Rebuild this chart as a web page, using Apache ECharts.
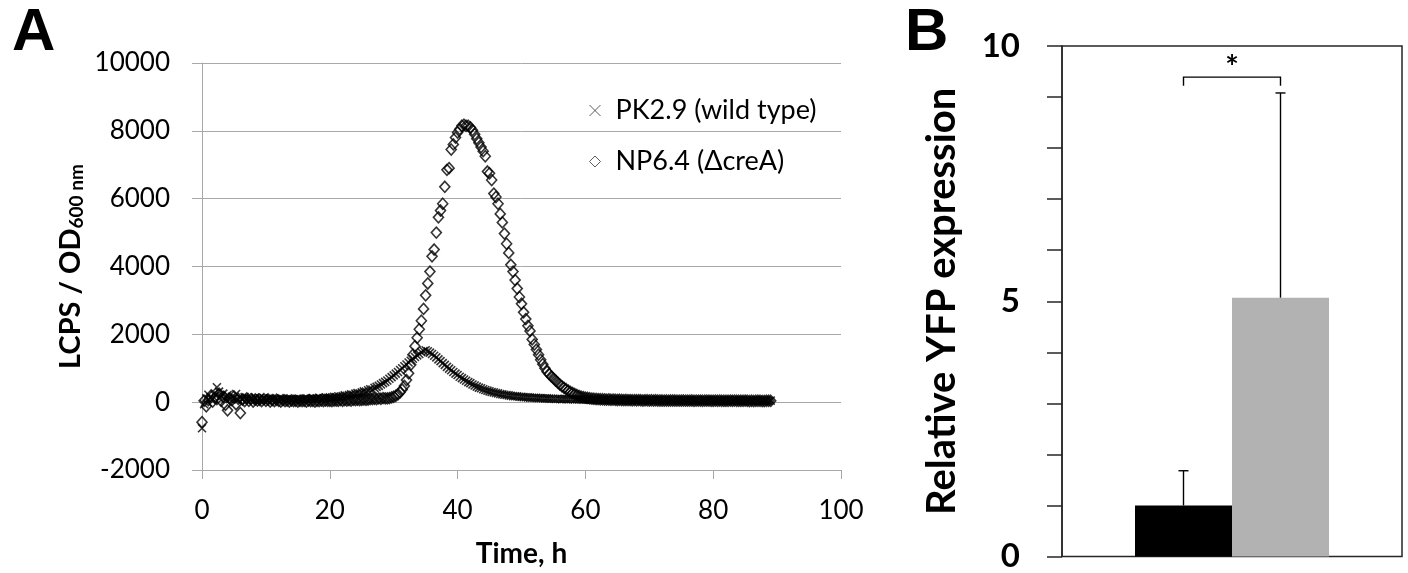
<!DOCTYPE html>
<html><head><meta charset="utf-8">
<script src="https://cdn.jsdelivr.net/npm/echarts@6/dist/echarts.min.js"></script>
<style>html,body{margin:0;padding:0;background:#fff}#c{width:1408px;height:573px}</style>
</head><body><div id="c"></div>
<script>
// ---- Panel A data: time (h) and LCPS/OD600 for the two strains ----
const timeH = [
0,0.33,0.67,1,1.33,1.67,2,2.33,2.67,3,3.33,3.67,4,4.33,4.67,5,5.33,5.67,6,6.33,6.67,7,7.33,7.67,8,8.33,8.67,9,9.33,9.67,
10,10.33,10.67,11,11.33,11.67,12,12.33,12.67,13,13.33,13.67,14,14.33,14.67,15,15.33,15.67,16,16.33,16.67,17,17.33,17.67,18,18.33,18.67,19,19.33,19.67,
20,20.33,20.67,21,21.33,21.67,22,22.33,22.67,23,23.33,23.67,24,24.33,24.67,25,25.33,25.67,26,26.33,26.67,27,27.33,27.67,28,28.33,28.67,29,29.33,29.67,
30,30.33,30.67,31,31.33,31.67,32,32.33,32.67,33,33.33,33.67,34,34.33,34.67,35,35.33,35.67,36,36.33,36.67,37,37.33,37.67,38,38.33,38.67,39,39.33,39.67,
40,40.33,40.67,41,41.33,41.67,42,42.33,42.67,43,43.33,43.67,44,44.33,44.67,45,45.33,45.67,46,46.33,46.67,47,47.33,47.67,48,48.33,48.67,49,49.33,49.67,
50,50.33,50.67,51,51.33,51.67,52,52.33,52.67,53,53.33,53.67,54,54.33,54.67,55,55.33,55.67,56,56.33,56.67,57,57.33,57.67,58,58.33,58.67,59,59.33,59.67,
60,60.33,60.67,61,61.33,61.67,62,62.33,62.67,63,63.33,63.67,64,64.33,64.67,65,65.33,65.67,66,66.33,66.67,67,67.33,67.67,68,68.33,68.67,69,69.33,69.67,
70,70.33,70.67,71,71.33,71.67,72,72.33,72.67,73,73.33,73.67,74,74.33,74.67,75,75.33,75.67,76,76.33,76.67,77,77.33,77.67,78,78.33,78.67,79,79.33,79.67,
80,80.33,80.67,81,81.33,81.67,82,82.33,82.67,83,83.33,83.67,84,84.33,84.67,85,85.33,85.67,86,86.33,86.67,87,87.33,87.67,88,88.33,88.67,89
];
const wildTypeLCPS = [
-770,-60,110, 220,150,90, 260,440,310, 180,250,140, 210,90,160, 120,240,70, 130,90,150, 60,120,100, 80,140,60, 110,70,120,
90,50,110, 70,100,80, 60,110,90, 80,50,100, 70,90,60, 100,80,70, 90,110,80, 100,120,90, 110,130,100, 120,140,130,
140,120,160, 150,170,160, 180,200,190, 210,230,220, 250,270,260, 290,320,310, 350,380,370, 420,450,480, 520,560,600, 640,690,740,
790,840,890, 950,1000,1060, 1110,1170,1220, 1280,1330,1380, 1420,1470,1510, 1530,1500,1460, 1420,1370,1320, 1260,1210,1150, 1100,1040,990, 940,890,840,
800,750,710, 670,630,590, 560,520,490, 460,430,410, 380,360,340, 320,300,290, 270,260,240, 230,220,210, 200,190,180, 175,170,160,
155,150,145, 140,135,130, 130,125,120, 120,115,110, 110,105,100, 100,95,100, 95,90,95, 90,85,90, 85,80,85, 80,85,75,
80,75,70, 70,75,65, 70,65,70, 60,70,65, 65,60,70, 60,65,55, 65,60,60, 55,65,60, 60,55,60, 55,60,50,
60,55,55, 50,60,55, 55,50,60, 50,55,50, 55,50,55, 50,55,45, 55,50,50, 45,55,50, 50,45,55, 50,50,45,
45,50,50, 50,45,50, 45,50,45, 50,45,50, 45,50,40, 50,45,45, 40,50,45, 45,40,50, 45,45,40, 45
];
const creALCPS = [
-590,40,-120, 60,180,20, 130,90,250, 40,160,-80, -240,110,60, 170,-60,100, -320,80,30, 110,40,90, 20,80,50, 70,30,90,
40,80,20, 60,30,70, 40,20,60, 30,50,20, 50,30,40, 20,40,30, 40,20,50, 30,40,20, 40,30,50, 30,50,40,
40,30,50, 50,40,60, 40,60,50, 60,50,70, 60,70,60, 70,80,70, 80,90,90, 100,90,110, 100,120,110, 110,120,140,
160,190,230, 290,370,480, 650,850,1100, 1400,1650,1900, 2150,2400,2750, 3150,3500,3850, 4300,4500,5000, 5450,5650,5850, 6350,6850,6900, 7450,7600,7800,
7950,8050,8150, 8180,8150,8150, 8100,8020,7900, 7770,7650,7520, 7400,7250,6800, 6750,6550,6150, 6050,5850,5550, 5300,4970,4670, 4400,4050,3850, 3600,3350,3100,
2900,2650,2450, 2250,2100,1850, 1700,1550,1400, 1250,1120,1000, 900,830,760, 700,640,580, 520,470,420, 380,340,300, 270,240,210, 185,165,150,
135,125,115, 105,100,95, 90,85,85, 80,75,80, 70,75,70, 65,70,65, 60,65,60, 60,55,60, 55,60,55, 50,55,55,
50,55,50, 55,50,50, 50,45,50, 45,50,50, 50,45,45, 45,50,45, 45,45,50, 40,45,45, 45,40,45, 45,45,40,
40,45,40, 45,40,40, 40,40,45, 40,45,40, 40,40,40, 45,40,35, 40,35,40, 40,40,35, 35,40,40, 40
];
const seriesNames = ['PK2.9 (wild type)', 'NP6.4 (\u0394creA)'];

// ---- Panel B data ----
const barCategory = ['YFP'];
const barNames = ['PK2.9', 'NP6.4'];
const relYFP = [1.0, 5.07];
const relYFPErr = [0.68, 4.01];
const barColors = ['#000000', '#b2b2b2'];
const sigMark = '*';

const F = 'Lato, "Noto Sans", sans-serif';
const GRAY = '#a8a8a8';
const DARK = '#262626';
const xSym = 'path://M0,0L10,10M10,0L0,10';
const BAR_W = 97;

const chart = echarts.init(document.getElementById('c'));
chart.setOption({
  animation: false,
  textStyle: { fontFamily: F, color: '#000' },
  graphic: [
    { type: 'text', left: 12, top: 3, style: { text: 'A', font: 'bold 60px "Liberation Sans", Arial, sans-serif', fill: '#000' } },
    { type: 'text', left: 905, top: 3, style: { text: 'B', font: 'bold 60px "Liberation Sans", Arial, sans-serif', fill: '#000' } }
  ],
  legend: {
    orient: 'vertical', left: 584, top: 92, itemGap: 24, itemWidth: 11, itemHeight: 11,
    textStyle: { fontFamily: F, fontSize: 27, color: '#000', padding: [0, 0, 0, 10] },
    data: [
      { name: seriesNames[0], icon: xSym, itemStyle: { color: 'rgba(0,0,0,0)', borderColor: '#333', borderWidth: 1 } },
      { name: seriesNames[1], icon: 'diamond', itemStyle: { color: 'rgba(0,0,0,0)', borderColor: '#333', borderWidth: 1 } }
    ]
  },
  grid: [
    { left: 202, right: 567, top: 63, bottom: 102.5 },
    { left: 1062, right: 6, top: 46, bottom: 16, show: true, borderColor: DARK, borderWidth: 1.5 }
  ],
  xAxis: [
    { gridIndex: 0, type: 'value', min: 0, max: 100, interval: 20,
      axisLine: { onZero: false, lineStyle: { color: GRAY } },
      axisTick: { show: true, length: 9, lineStyle: { color: GRAY } },
      splitLine: { show: false },
      axisLabel: { color: '#000', fontFamily: F, fontSize: 26, margin: 28 },
      name: 'Time, h', nameLocation: 'middle', nameGap: 70,
      nameTextStyle: { fontFamily: F, fontWeight: 'bold', fontSize: 28, color: '#000' } },
    { gridIndex: 1, type: 'category', data: barCategory,
      axisLine: { show: false }, axisTick: { show: false }, axisLabel: { show: false } }
  ],
  yAxis: [
    { gridIndex: 0, type: 'value', min: -2000, max: 10000, interval: 2000,
      axisLine: { show: true, onZero: false, lineStyle: { color: GRAY } },
      axisTick: { show: true, length: 10, lineStyle: { color: GRAY } },
      splitLine: { show: true, lineStyle: { color: GRAY } },
      axisLabel: { color: '#000', fontFamily: F, fontSize: 26, margin: 32, formatter: v => String(v) },
      name: '{a|LCPS / OD}{s|600 nm}', nameLocation: 'middle', nameGap: 116,
      nameTextStyle: { color: '#000', rich: {
        a: { fontFamily: F, fontWeight: 'bold', fontSize: 29, color: '#000' },
        s: { fontFamily: F, fontWeight: 'bold', fontSize: 19, color: '#000', padding: [12, 0, 0, 0] }
      } } },
    { gridIndex: 1, type: 'value', min: 0, max: 10, interval: 1,
      axisLine: { show: true, lineStyle: { color: DARK, width: 1.5 } },
      axisTick: { show: true, length: 15, lineStyle: { color: DARK, width: 1.5 } },
      splitLine: { show: false },
      axisLabel: { formatter: v => (v % 5 === 0 ? String(v) : ''), color: '#000', fontFamily: F, fontWeight: 'bold', fontSize: 33, margin: 42 },
      name: 'Relative YFP expression', nameLocation: 'middle', nameGap: 100,
      nameTextStyle: { fontFamily: F, fontWeight: 'bold', fontSize: 40, color: '#000' } }
  ],
  series: [
    { name: seriesNames[0], type: 'scatter', xAxisIndex: 0, yAxisIndex: 0,
      symbol: xSym, symbolSize: 8,
      itemStyle: { color: 'rgba(0,0,0,0)', borderColor: '#000', borderWidth: 1.6 },
      data: timeH.map((t, i) => [t, wildTypeLCPS[i]]) },
    { name: seriesNames[1], type: 'scatter', xAxisIndex: 0, yAxisIndex: 0,
      symbol: 'diamond', symbolSize: [10, 11],
      itemStyle: { color: 'rgba(0,0,0,0)', borderColor: '#000', borderWidth: 1.6 },
      data: timeH.map((t, i) => [t, creALCPS[i]]) },
    { name: barNames[0], type: 'bar', xAxisIndex: 1, yAxisIndex: 1, barWidth: BAR_W, barGap: '0%',
      itemStyle: { color: barColors[0] }, data: [relYFP[0]] },
    { name: barNames[1], type: 'bar', xAxisIndex: 1, yAxisIndex: 1, barWidth: BAR_W, barGap: '0%',
      itemStyle: { color: barColors[1] }, data: [relYFP[1]] },
    { name: 'error', type: 'custom', xAxisIndex: 1, yAxisIndex: 1, z: 5,
      data: relYFP.map((v, i) => [0, v, v + relYFPErr[i], i === 0 ? -1 : 1]),
      renderItem: (params, api) => {
        const base = api.coord([api.value(0), api.value(1)]);
        const top = api.coord([api.value(0), api.value(2)]);
        const x = base[0] + api.value(3) * BAR_W / 2;
        const st = { stroke: '#000', lineWidth: 1.4 };
        return { type: 'group', children: [
          { type: 'line', shape: { x1: x, y1: base[1], x2: x, y2: top[1] }, style: st },
          { type: 'line', shape: { x1: x - 5, y1: top[1], x2: x + 5, y2: top[1] }, style: st }
        ] };
      } },
    { name: 'significance', type: 'custom', xAxisIndex: 1, yAxisIndex: 1, z: 5,
      data: [[0, 9.39, 9.22, 9.55]],
      renderItem: (params, api) => {
        const lv = api.coord([api.value(0), api.value(1)]);
        const leg = api.coord([api.value(0), api.value(2)]);
        const st = api.coord([api.value(0), api.value(3)]);
        const xl = lv[0] - BAR_W / 2, xr = lv[0] + BAR_W / 2;
        return { type: 'group', children: [
          { type: 'polyline', shape: { points: [[xl, leg[1]], [xl, lv[1]], [xr, lv[1]], [xr, leg[1]]] },
            style: { stroke: '#000', lineWidth: 1.4, fill: null } },
          { type: 'text', style: { text: sigMark, x: lv[0], y: st[1], fill: '#000',
            font: 'bold 32px Lato, sans-serif', align: 'center', verticalAlign: 'middle' } }
        ] };
      } }
  ]
});
</script></body></html>
